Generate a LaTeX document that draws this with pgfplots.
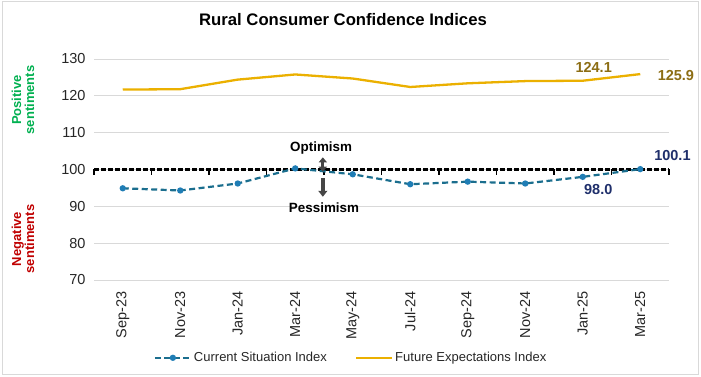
\documentclass[border=0pt]{standalone}
\usepackage{pgfplots}
\pgfplotsset{compat=1.18}
\usepackage{fontspec}
\setmainfont{Liberation Sans}
\usetikzlibrary{arrows.meta}
\definecolor{curr}{HTML}{1B6E8E}
\definecolor{currmk}{HTML}{1F7DB5}
\definecolor{fut}{HTML}{EBB000}
\definecolor{futlab}{HTML}{8C6D14}
\definecolor{currlab}{HTML}{1F2F6B}
\definecolor{posg}{HTML}{00B050}
\definecolor{negr}{HTML}{C00000}
\definecolor{gridc}{HTML}{D9D9D9}
\definecolor{txt}{HTML}{262626}
\begin{document}
\begin{tikzpicture}[x=1pt,y=1pt]
\useasboundingbox (0,0) rectangle (701,377);
\draw[gridc, line width=1pt] (2,2) rectangle (698,375);
\node[font=\fontsize{16.7}{18}\selectfont\bfseries, text=black] at (343,357) {Rural Consumer Confidence Indices};
\node[rotate=90, font=\fontsize{13}{13}\selectfont\bfseries, text=posg, align=center] at (23,277) {Positive\\sentiments};
\node[rotate=90, font=\fontsize{13}{13}\selectfont\bfseries, text=negr, align=center] at (23,138) {Negative\\sentiments};
\begin{axis}[
  at={(94pt,97pt)}, anchor=south west,
  scale only axis, width=575pt, height=221pt,
  xmin=-0.5, xmax=9.5, ymin=70, ymax=130,
  clip=false,
  axis line style={draw=none},
  xtick={0,...,9},
  xticklabels={Sep-23,Nov-23,Jan-24,Mar-24,May-24,Jul-24,Sep-24,Nov-24,Jan-25,Mar-25},
  ytick={70,80,...,130},
  ymajorgrids, grid style={gridc, line width=0.8pt},
  tick style={draw=none},
  /pgf/number format/assume math mode=true,
  ticklabel style={font=\fontsize{14.5}{15}\selectfont, text=txt},
  xticklabel style={rotate=90, anchor=east},
  xticklabel shift=8pt,
  yticklabel style={xshift=-5pt},
  legend columns=2,
  legend style={at={(0.447,-0.352)}, anchor=center, draw=none, fill=none,
    font=\fontsize{13}{14}\selectfont, text=txt,
    /tikz/every even column/.append style={column sep=26pt}},
  legend image code/.code={
    \draw[#1] (0pt,0pt) -- (36pt,0pt);
    \draw[#1, solid, draw=none] plot coordinates {(18pt,0pt)};
  },
]
% reference line at 100 with tick marks
\addplot[black, line width=2.4pt, dash pattern=on 5pt off 2pt, forget plot] coordinates {(-0.5,100) (9.5,100)};
\pgfplotsinvokeforeach{-0.5,0.5,1.5,2.5,3.5,4.5,5.5,6.5,7.5,8.5,9.5}{
  \draw[black, line width=1.6pt] (axis cs:#1,100) -- (axis cs:#1,98.6);
}
\addplot[curr, line width=2.2pt, dash pattern=on 6pt off 3.5pt, mark=*, mark size=2pt,
  mark options={solid, fill=currmk, draw=currmk}] coordinates {
  (0,94.9) (1,94.3) (2,96.2) (3,100.3) (4,98.7) (5,96.0) (6,96.7) (7,96.2) (8,98.0) (9,100.1)};
\addlegendentry{Current Situation Index}
\addplot[fut, line width=2.3pt] coordinates {
  (0,121.7) (1,121.8) (2,124.4) (3,125.8) (4,124.7) (5,122.4) (6,123.4) (7,124.0) (8,124.1) (9,125.9)};
\addlegendentry{Future Expectations Index}
% annotations
\node[font=\fontsize{14.5}{15}\selectfont\bfseries, text=futlab] at (axis cs:8.19,127.7) {124.1};
\node[font=\fontsize{14.5}{15}\selectfont\bfseries, text=futlab] at (axis cs:9.62,125.5) {125.9};
\node[font=\fontsize{14.5}{15}\selectfont\bfseries, text=currlab] at (axis cs:9.56,103.7) {100.1};
\node[font=\fontsize{14.5}{15}\selectfont\bfseries, text=currlab] at (axis cs:8.27,94.6) {98.0};
\node[font=\fontsize{13.4}{14}\selectfont\bfseries, text=black] at (axis cs:3.45,105.9) {Optimism};
\node[font=\fontsize{13.4}{14}\selectfont\bfseries, text=black] at (axis cs:3.5,89.6) {Pessimism};
\draw[{Triangle[length=5pt,width=8pt]}-{Triangle[length=5pt,width=8pt]}, line width=3pt, gray!55!black] (axis cs:3.48,99.4) -- (axis cs:3.48,103.3);
\draw[-{Triangle[length=6pt,width=9pt]}, line width=3.5pt, gray!55!black] (axis cs:3.48,97.6) -- (axis cs:3.48,92.6);
\end{axis}
\end{tikzpicture}
\end{document}
